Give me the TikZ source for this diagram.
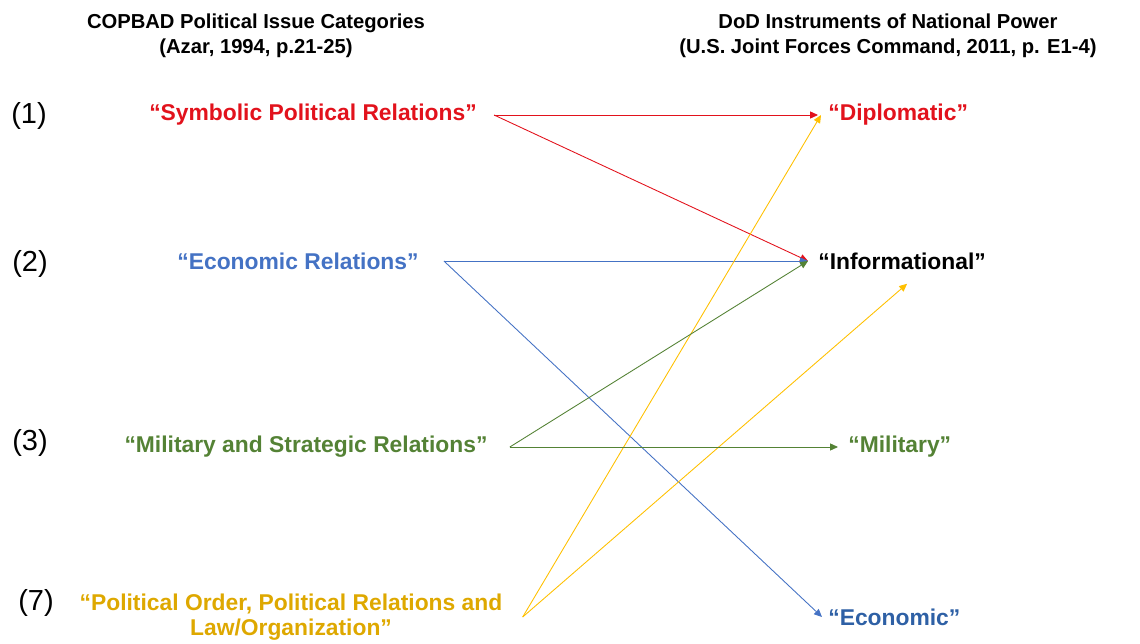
\documentclass[tikz,border=0pt]{standalone}
\usepackage{fontspec}
\setmainfont{Liberation Sans}
\usepackage{xcolor}
\usetikzlibrary{arrows.meta}
\definecolor{copred}{RGB}{226,18,28}
\definecolor{copblue}{RGB}{68,114,196}
\definecolor{copdarkblue}{RGB}{46,96,165}
\definecolor{copgreen}{RGB}{84,130,53}
\definecolor{copgold}{RGB}{255,192,0}
\definecolor{copgoldtext}{RGB}{222,168,0}

\begin{document}
\begin{tikzpicture}[x = 0.02cm, y = -0.02cm,
            every node/.append style = {inner sep = 0pt, font = \bfseries\fontsize{13}{14.5}\selectfont},
            head/.style = {align = center, font = \bfseries\fontsize{11.5}{14.5}\selectfont},
            num/.style = {font = \fontsize{16.5}{19}\selectfont},
            link/.style = {line width = 0.5pt, -{Triangle[length = 4.5pt, width = 4pt]}}]
            \useasboundingbox (0,0) rectangle (1140,643);
            \node[head] (lhead) at (256,36) {COPBAD Political Issue Categories\\(Azar, 1994, p.21-25)};
            \node[head] (rhead) at (888,36) {DoD Instruments of National Power\\(U.S. Joint Forces Command, 2011, p. E1-4)};
            \node[num] (n1) at (29,116) {(1)};
            \node[num] (n2) at (30,264) {(2)};
            \node[num] (n3) at (30,443) {(3)};
            \node[num] (n7) at (36,603) {(7)};
            \node[text = copred] (symb) at (313,115) {``Symbolic Political Relations''};
            \node[text = copblue] (econ) at (298,261) {``Economic Relations''};
            \node[text = copgreen] (mil) at (306,447) {``Military and Strategic Relations''};
            \node[text = copgoldtext, align = center] (polord) at (291,617)
                {``Political Order, Political Relations and\\Law/Organization''};
            \node[text = copred, anchor = west] (dipl) at (828,115) {``Diplomatic''};
            \node[anchor = west] (info) at (818,261) {``Informational''};
            \node[text = copgreen, anchor = west] (milr) at (848,447) {``Military''};
            \node[text = copdarkblue, anchor = west] (econr) at (828,617) {``Economic''};
            \draw[link, copred] ([xshift = .34cm]symb.east) -- ([xshift = -.2cm]dipl.west);
            \draw[link, copred] ([xshift = .34cm]symb.east) -- ([xshift = -.2cm]info.west);
            \draw[link, copblue] ([xshift = .5cm]econ.east) -- ([xshift = -.2cm]info.west);
            \draw[link, copblue] ([xshift = .5cm]econ.east) -- ([xshift = -.12cm]econr.west);
            \draw[link, copgold] ([xshift = .4cm]polord.east) -- ([xshift = -.14cm]dipl.west);
            \draw[link, copgold] ([xshift = .4cm]polord.east) -- ([xshift = .1cm, yshift = -.28cm]info.south);
            \draw[link, copgreen] ([xshift = .44cm]mil.east) -- ([xshift = -.2cm]info.west);
            \draw[link, copgreen] ([xshift = .44cm]mil.east) -- ([xshift = -.2cm]milr.west);
        \end{tikzpicture}
\end{document}
